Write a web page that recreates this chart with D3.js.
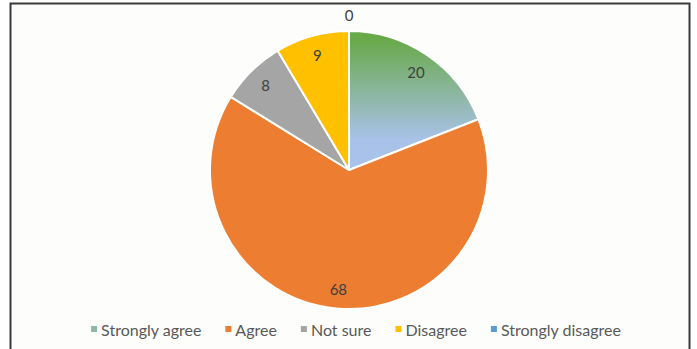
<!DOCTYPE html>
<html>
<head>
<meta charset="utf-8">
<script src="https://cdn.jsdelivr.net/npm/d3@7"></script>
<style>
  html, body { margin: 0; padding: 0; background: #ffffff; }
  svg { display: block; }
</style>
</head>
<body>
<svg id="chart" width="697" height="349"></svg>
<script>
// Survey responses
const categories = ["Strongly agree", "Agree", "Not sure", "Disagree", "Strongly disagree"];
const counts = [20, 68, 8, 9, 0];
const colors = ["url(#saGrad)", "#ED7D31", "#A5A5A5", "#FFC000", "#5B9BD5"];
const legendColors = ["#8fb7a8", "#ED7D31", "#A5A5A5", "#FFC000", "#5B9BD5"];

const svg = d3.select("#chart");
const W = 697, H = 349;

// frame
svg.append("rect").attr("x", 0).attr("y", 0).attr("width", W).attr("height", H).attr("fill", "#ffffff");
svg.append("rect")
  .attr("x", 10.5).attr("y", 3.5).attr("width", 679).attr("height", 360)
  .attr("fill", "#fdfdfb").attr("stroke", "#3a3a3a").attr("stroke-width", 2);

const cx = 349, cy = 170, R = 139;

// vertical green-to-blue gradient for the first slice (pie-local coordinates)
const defs = svg.append("defs");
const g = defs.append("linearGradient").attr("id", "saGrad")
  .attr("gradientUnits", "userSpaceOnUse")
  .attr("x1", 0).attr("y1", -R + 8).attr("x2", 0).attr("y2", -30);
g.append("stop").attr("offset", "0%").attr("stop-color", "#69a94a");
g.append("stop").attr("offset", "100%").attr("stop-color", "#a9c2ea");

const data = categories.map((c, i) => ({ name: c, value: counts[i], color: colors[i] }));
const pie = d3.pie().value(d => d.value).sort(null);
const arcs = pie(data);
const arc = d3.arc().innerRadius(0).outerRadius(R);
const labelArc = d3.arc().innerRadius(119).outerRadius(119);
const outerLabelArc = d3.arc().innerRadius(155).outerRadius(155);

const gp = svg.append("g").attr("transform", `translate(${cx},${cy})`);
gp.selectAll("path").data(arcs).join("path")
  .attr("d", arc)
  .attr("fill", d => d.data.color)
  .attr("stroke", "#ffffff")
  .attr("stroke-width", 2)
  .attr("stroke-linejoin", "round");

gp.selectAll("text").data(arcs).join("text")
  .attr("transform", d => `translate(${(d.data.value === 0 ? outerLabelArc : labelArc).centroid(d)})`)
  .attr("text-anchor", "middle")
  .attr("dominant-baseline", "central")
  .attr("font-family", "Lato, 'Open Sans', sans-serif")
  .attr("font-size", 15)
  .attr("fill", "#404040")
  .text(d => d.data.value);

// legend
const legend = svg.append("g").attr("font-family", "Lato, 'Open Sans', sans-serif")
  .attr("font-size", 16).attr("fill", "#595959");
const items = legend.selectAll("g").data(data).join("g");
items.append("rect").attr("width", 6).attr("height", 6).attr("y", -3)
  .attr("fill", (d, i) => legendColors[i]);
items.append("text").attr("x", 10).attr("dominant-baseline", "central").text(d => d.name);
const gap = 24;
const widths = [];
items.each(function () { widths.push(this.getBBox().width); });
const total = d3.sum(widths) + gap * (widths.length - 1);
let x = 0;
items.attr("transform", (d, i) => {
  const t = `translate(${x},0)`;
  x += widths[i] + gap;
  return t;
});
legend.attr("transform", `translate(${(90 + 622) / 2 - total / 2},329)`);
</script>
</body>
</html>
